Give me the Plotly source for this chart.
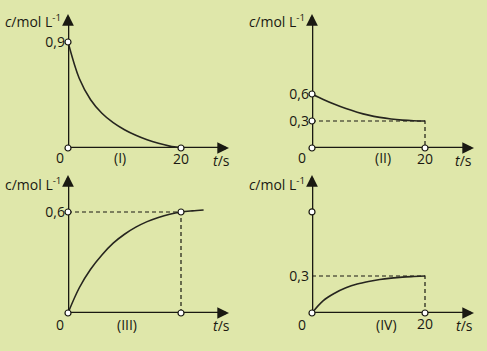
import plotly.graph_objects as go

W, H = 487, 351
BG = "#dfe7aa"
INK = "#1a1912"
FONT = "Open Sans"

# ---------------- data ----------------
t_I = [0, 2, 4, 6, 8, 10, 12, 14, 16, 18, 20]
c_I = [0.90, 0.59, 0.41, 0.295, 0.215, 0.155, 0.108, 0.07, 0.04, 0.016, 0.0]

t_II = [0, 2, 4, 6, 8, 10, 12, 14, 16, 18, 20]
c_II = [0.60, 0.54, 0.486, 0.438, 0.398, 0.365, 0.34, 0.322, 0.31, 0.303, 0.30]

t_III = [0, 2, 4, 6, 8, 10, 12, 14, 16, 18, 20, 22, 24]
c_III = [0.0, 0.15, 0.26, 0.345, 0.415, 0.468, 0.51, 0.543, 0.568, 0.587, 0.60, 0.607, 0.612]

t_IV = [0, 2, 4, 6, 8, 10, 12, 14, 16, 18, 20]
c_IV = [0.0, 0.10, 0.16, 0.204, 0.235, 0.256, 0.272, 0.283, 0.291, 0.296, 0.30]

# marked points (t, c)
pts_I = [(0, 0.9), (0, 0), (20, 0)]
pts_II = [(0, 0.6), (0, 0.3), (0, 0), (20, 0)]
pts_III = [(0, 0.6), (0, 0), (20, 0.6), (20, 0)]
pts_IV = [(0, 0.82), (0, 0), (20, 0)]

# dashed guide levels (t_end, c_level) or None
guide_I = None
guide_II = (20, 0.3)
guide_III = (20, 0.6)
guide_IV = (20, 0.3)

yticks_I = [0.9]
yticks_II = [0.6, 0.3]
yticks_III = [0.6]
yticks_IV = [0.3]
xticks_I = [20]
xticks_II = [20]
xticks_III = []
xticks_IV = [20]

labels = ["(I)", "(II)", "(III)", "(IV)"]

# ---------------- layout geometry (pixels) ----------------
PX_PER_T = 5.65
panels = [
    dict(idx=1, ox=68, oy=148, xend=229, ytop=14, ppu=117.8, t=t_I, c=c_I, pts=pts_I,
         guide=guide_I, yt=yticks_I, xt=xticks_I, lab=labels[0], ital=True,
         zero=(60, 157), labpos=(120, 157), tspos=(221, 160), cpos=(63, 21)),
    dict(idx=2, ox=312, oy=148, xend=474, ytop=14, ppu=90.0, t=t_II, c=c_II, pts=pts_II,
         guide=guide_II, yt=yticks_II, xt=xticks_II, lab=labels[1], ital=True,
         zero=(302, 157), labpos=(383, 157), tspos=(463, 160), cpos=(307, 21)),
    dict(idx=3, ox=68, oy=313, xend=229, ytop=175, ppu=168.3, t=t_III, c=c_III, pts=pts_III,
         guide=guide_III, yt=yticks_III, xt=xticks_III, lab=labels[2], ital=False,
         zero=(60, 324), labpos=(127, 324), tspos=(221, 325), cpos=(63, 184)),
    dict(idx=4, ox=312, oy=313, xend=474, ytop=175, ppu=123.3, t=t_IV, c=c_IV, pts=pts_IV,
         guide=guide_IV, yt=yticks_IV, xt=xticks_IV, lab=labels[3], ital=True,
         zero=(302, 324), labpos=(386, 324), tspos=(464, 325), cpos=(307, 184)),
]

fig = go.Figure()
shapes = []
annotations = []
layout_axes = {}

for p in panels:
    i = p["idx"]
    xa = "x" if i == 1 else f"x{i}"
    ya = "y" if i == 1 else f"y{i}"
    xmax = (p["xend"] - p["ox"]) / PX_PER_T
    ymax = (p["oy"] - p["ytop"]) / p["ppu"]

    layout_axes["xaxis" if i == 1 else f"xaxis{i}"] = dict(
        domain=[p["ox"] / W, p["xend"] / W], range=[0, xmax], anchor=ya,
        showgrid=False, zeroline=False, showline=False, ticks="",
        tickvals=p["xt"], ticktext=[str(v) for v in p["xt"]],
        tickfont=dict(family=FONT, size=14, color=INK), ticklabelstandoff=1,
        layer="below traces", fixedrange=True)
    layout_axes["yaxis" if i == 1 else f"yaxis{i}"] = dict(
        domain=[1 - p["oy"] / H, 1 - p["ytop"] / H], range=[0, ymax], anchor=xa,
        showgrid=False, zeroline=False, showline=False, ticks="",
        tickvals=p["yt"], tickformat=".1f",
        tickfont=dict(family=FONT, size=14, color=INK), ticklabelstandoff=2,
        layer="below traces", fixedrange=True)

    # axes lines
    shapes.append(dict(type="line", xref=xa, yref=ya, x0=0, y0=0,
                       x1=xmax - 5 / PX_PER_T, y1=0, layer="below",
                       line=dict(color=INK, width=2.6)))
    shapes.append(dict(type="line", xref=xa, yref=ya, x0=0, y0=0,
                       x1=0, y1=ymax - 5 / p["ppu"], layer="below",
                       line=dict(color=INK, width=2.6)))
    # arrow heads
    annotations.append(dict(xref=xa, yref=ya, x=xmax, y=0, ax=-10, ay=0, text="",
                            showarrow=True, arrowhead=2, arrowsize=0.9,
                            arrowwidth=2.6, arrowcolor=INK, standoff=0))
    annotations.append(dict(xref=xa, yref=ya, x=0, y=ymax, ax=0, ay=10, text="",
                            showarrow=True, arrowhead=2, arrowsize=0.9,
                            arrowwidth=2.6, arrowcolor=INK, standoff=0))

    # dashed guides
    if p["guide"] is not None:
        tg, cg = p["guide"]
        fig.add_trace(go.Scatter(x=[0, tg, tg], y=[cg, cg, 0], mode="lines",
                                 line=dict(color=INK, width=1.2, dash="4px,3px"),
                                 xaxis=xa, yaxis=ya, hoverinfo="skip",
                                 showlegend=False, cliponaxis=False))
    # curve
    fig.add_trace(go.Scatter(x=p["t"], y=p["c"], mode="lines",
                             line=dict(color="#26251f", width=1.6, shape="spline",
                                       smoothing=1.0),
                             xaxis=xa, yaxis=ya, showlegend=False, cliponaxis=False))
    # markers
    fig.add_trace(go.Scatter(x=[q[0] for q in p["pts"]], y=[q[1] for q in p["pts"]],
                             mode="markers",
                             marker=dict(symbol="circle", size=6, color="white",
                                         line=dict(color=INK, width=1.2)),
                             xaxis=xa, yaxis=ya, showlegend=False, cliponaxis=False))

    def txt(s, pos, xanchor="center", yanchor="middle"):
        annotations.append(dict(xref="paper", yref="paper", x=pos[0] / W, y=1 - pos[1] / H,
                                text=s, showarrow=False, xanchor=xanchor, yanchor=yanchor,
                                font=dict(family=FONT, size=14, color=INK)))

    txt("0", p["zero"])
    txt(p["lab"], p["labpos"])
    txt("<i>t</i>/s", p["tspos"])
    ctxt = ("<i>c</i>" if p["ital"] else "c") + "/mol L<sup>-1</sup>"
    txt(ctxt, p["cpos"], xanchor="right")

fig.update_layout(
    width=W, height=H, margin=dict(l=0, r=0, t=0, b=0),
    paper_bgcolor=BG, plot_bgcolor="rgba(0,0,0,0)",
    separators=",.", showlegend=False,
    shapes=shapes, annotations=annotations,
    **layout_axes,
)

fig.write_html("out.html", config=dict(displayModeBar=False, staticPlot=True))
